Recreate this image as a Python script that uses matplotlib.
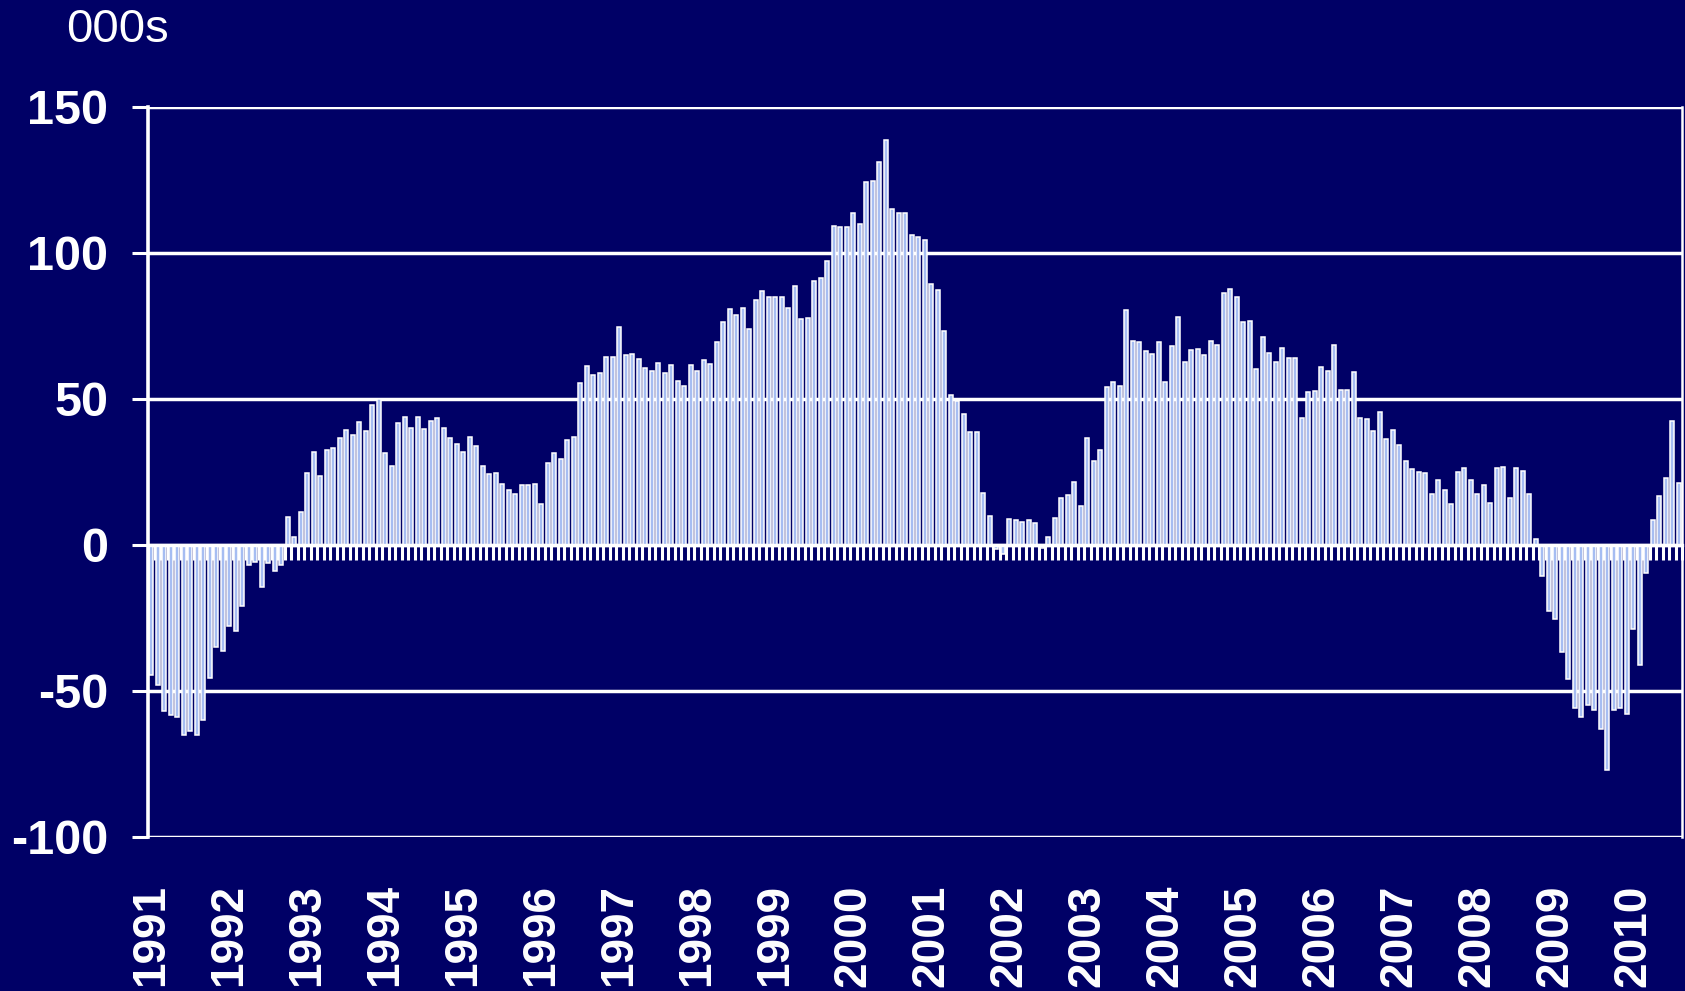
import matplotlib
matplotlib.use("Agg")
import matplotlib.pyplot as plt
import numpy as np

# Monthly values (000s), Jan 1991 - Aug 2010
v1991 = [-44.6, -48.0, -56.9, -58.3, -58.9, -65.2, -63.8, -65.2, -59.8, -45.4, -34.9, -36.4]
v1992 = [-27.8, -29.4, -20.8, -6.9, -5.9, -14.5, -6.1, -8.8, -7.0, 9.7, 2.6, 11.4]
v1993 = [24.6, 32.0, 23.7, 32.5, 33.3, 36.8, 39.5, 37.6, 42.1, 39.0, 47.8, 50.0]
v1994 = [31.5, 27.1, 41.8, 43.7, 40.0, 43.9, 39.6, 42.6, 43.5, 40.0, 36.5, 34.7]
v1995 = [32.0, 36.9, 33.9, 27.2, 24.3, 24.6, 21.0, 18.8, 17.6, 20.6, 20.6, 21.0]
v1996 = [14.1, 28.1, 31.6, 29.4, 36.0, 36.9, 55.4, 61.4, 58.3, 58.8, 64.5, 64.5]
v1997 = [74.6, 65.0, 65.4, 63.7, 60.6, 59.7, 62.2, 59.0, 61.7, 56.0, 54.3, 61.7]
v1998 = [59.6, 63.5, 62.1, 69.6, 76.5, 80.8, 78.6, 81.2, 73.9, 83.8, 86.9, 85.1]
v1999 = [85.1, 85.1, 81.2, 88.7, 77.3, 77.7, 90.3, 91.6, 97.3, 109.4, 108.9, 108.9]
v2000 = [113.8, 109.8, 124.2, 124.7, 131.2, 138.6, 115.0, 113.8, 113.8, 106.0, 105.5, 104.5]
v2001 = [89.5, 87.5, 73.4, 51.4, 49.4, 44.8, 38.7, 38.7, 17.7, 10.1, -1.5, -3.0]
v2002 = [8.8, 8.4, 7.9, 8.4, 7.4, -1.0, 2.6, 9.3, 16.2, 17.2, 21.5, 13.2]
v2003 = [36.8, 28.9, 32.5, 54.0, 55.7, 54.4, 80.4, 69.9, 69.4, 66.3, 65.4, 69.4]
v2004 = [55.8, 68.1, 78.0, 62.8, 66.7, 67.1, 65.0, 69.8, 68.5, 86.2, 87.6, 85.0]
v2005 = [76.4, 76.8, 60.2, 71.2, 65.9, 62.8, 67.6, 64.1, 64.1, 43.5, 52.3, 52.7]
v2006 = [61.1, 59.7, 68.5, 53.2, 53.2, 59.3, 43.5, 43.0, 39.0, 45.6, 36.4, 39.5]
v2007 = [34.2, 28.9, 25.9, 24.9, 24.5, 17.4, 22.3, 18.9, 14.0, 25.1, 26.3, 22.3]
v2008 = [17.4, 20.6, 14.4, 26.3, 26.8, 16.2, 26.3, 25.4, 17.4, 2.1, -10.6, -22.5]
v2009 = [-25.5, -36.6, -45.8, -55.7, -58.9, -54.9, -56.6, -62.9, -77.0, -56.6, -55.7, -57.8]
v2010 = [-28.6, -41.0, -9.7, 8.4, 16.7, 22.8, 42.6, 21.2]

years = [str(y) for y in range(1991, 2011)]
y_ticks = [-100, -50, 0, 50, 100, 150]

values = (v1991 + v1992 + v1993 + v1994 + v1995 + v1996 + v1997 + v1998 + v1999
          + v2000 + v2001 + v2002 + v2003 + v2004 + v2005 + v2006 + v2007 + v2008
          + v2009 + v2010)
n = len(values)
x = np.arange(n)

BG = "#000066"
W = 1685 / 100
H = 991 / 100
fig = plt.figure(figsize=(W, H), dpi=100, facecolor=BG)
ax = fig.add_axes([148 / 1685, 1 - 837 / 991, (1682 - 148) / 1685, (837 - 107) / 991])
ax.set_facecolor(BG)

ax.bar(x, values, width=0.66, color="#a6bdf2", edgecolor="white", linewidth=1.1, zorder=2)

ax.set_xlim(-0.5, n - 0.5)
ax.set_ylim(-100, 150)

# y axis
ax.set_yticks(y_ticks)
ax.set_yticklabels([str(t) for t in y_ticks], fontsize=35, fontweight="bold",
                   color="white", family="Liberation Sans")
ax.tick_params(axis="y", direction="out", length=11.5, width=2.2, color="white", pad=17)
ax.yaxis.grid(True, color="white", linewidth=2.5)
ax.set_axisbelow(True)

# x axis at zero with month-boundary ticks
ax.spines["bottom"].set_position(("data", 0))
ax.spines["bottom"].set_color("white")
ax.spines["bottom"].set_linewidth(2.4)
ax.spines["bottom"].set_zorder(3)
ax.set_xticks(np.arange(n + 1) - 0.5)
ax.set_xticklabels([])
ax.tick_params(axis="x", direction="out", length=11, width=2.2, color="white")

ax.spines["left"].set_color("white")
ax.spines["left"].set_linewidth(2.6)
ax.spines["right"].set_color("white")
ax.spines["right"].set_linewidth(1.8)
ax.spines["top"].set_visible(False)

# year labels at the bottom
sec = ax.secondary_xaxis("bottom")
jan = [12 * i for i in range(len(years))]
sec.set_xticks(jan)
sec.set_xticklabels(years, rotation=90, fontsize=33, fontweight="bold",
                    color="white", family="Liberation Sans")
sec.tick_params(axis="x", length=0, pad=34)
sec.spines["bottom"].set_visible(False)

fig.text(66 / 1685, 1 - 42 / 991, "000s", fontsize=34, color="white",
         family="Liberation Sans", va="baseline", ha="left")

fig.savefig("out.png", dpi=100, facecolor=BG)
